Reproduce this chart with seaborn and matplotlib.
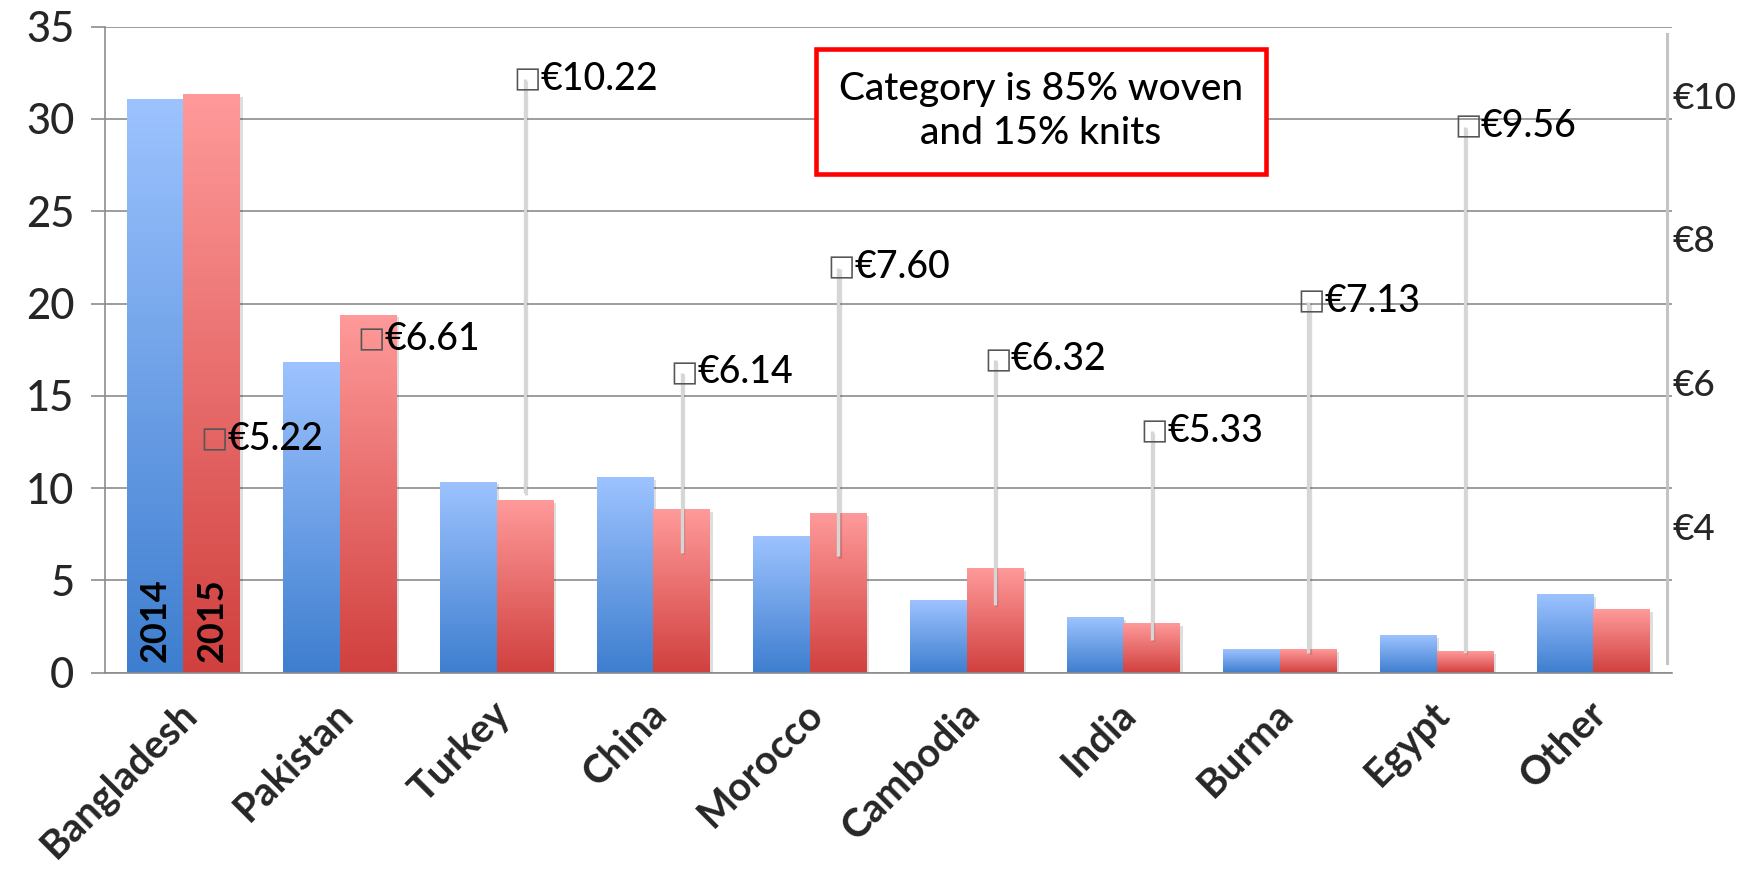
import numpy as np
import pandas as pd
import matplotlib
matplotlib.use("Agg")
import matplotlib.pyplot as plt
import seaborn as sns
from matplotlib.patches import Rectangle
from matplotlib import patheffects as pe
from matplotlib.colors import LinearSegmentedColormap
from matplotlib.transforms import ScaledTranslation

# ---------------- data ----------------
countries = ["Bangladesh", "Pakistan", "Turkey", "China", "Morocco",
             "Cambodia", "India", "Burma", "Egypt", "Other"]
years = ["2014", "2015"]
values_2014 = [31.1, 16.85, 10.35, 10.6, 7.42, 3.94, 3.02, 1.29, 2.05, 4.27]
values_2015 = [31.35, 19.4, 9.37, 8.88, 8.66, 5.68, 2.70, 1.29, 1.18, 3.46]
price_2015 = [5.22, 6.61, 10.22, 6.14, 7.60, 6.32, 5.33, 7.13, 9.56, np.nan]
price_low = [np.nan, np.nan, 4.47, 3.64, 3.59, 2.92, 2.43, 2.25, 2.25, np.nan]
left_ticks = [0, 5, 10, 15, 20, 25, 30, 35]
price_ticks = [4, 6, 8, 10]
note_text = "Category is 85% woven\nand 15% knits"

# ---------------- style ----------------
sns.set_style("white")
plt.rcParams["font.family"] = ["Lato", "DejaVu Sans"]
plt.rcParams["font.weight"] = "medium"

blue_bottom, blue_top = "#3E7ECF", "#9DC3FF"
red_bottom, red_top = "#D0403E", "#FF9A9A"
grid_col = "#8c8c8c"

df = pd.DataFrame({
    "country": countries * 2,
    "year": [years[0]] * len(countries) + [years[1]] * len(countries),
    "value": values_2014 + values_2015,
})

fig = plt.figure(figsize=(17.41, 8.69), dpi=100)
ax = fig.add_axes([0.0603, 0.2259, 0.8999, 0.7434])

sns.barplot(data=df, x="country", y="value", hue="year", order=countries,
            hue_order=years, palette=[blue_bottom, red_bottom], width=0.723,
            saturation=1, errorbar=None, legend=False, ax=ax)

# gradient fill for every bar
grad = np.linspace(0, 1, 256).reshape(-1, 1)
for cont, (cb, ct) in zip(ax.containers, [(blue_bottom, blue_top), (red_bottom, red_top)]):
    cmap = LinearSegmentedColormap.from_list("g", [cb, ct])
    for bar in cont:
        x0, y0 = bar.get_x(), bar.get_y()
        w, h = bar.get_width(), bar.get_height()
        bar.set_edgecolor("none")
        bar.set_path_effects([pe.SimplePatchShadow(offset=(2, -2), shadow_rgbFace="k", alpha=0.13),
                              pe.Normal()])
        im = ax.imshow(grad, cmap=cmap, extent=(x0, x0 + w, y0, y0 + h), origin="lower",
                       aspect="auto", interpolation="bilinear", zorder=bar.get_zorder() + 0.1)
        im.set_clip_path(bar)

ax.set_xlim(-0.5, len(countries) - 0.5)
ax.set_ylim(0, 35)
ax.set_yticks(left_ticks)
ax.set_yticklabels([str(t) for t in left_ticks])
ax.set_axisbelow(True)
ax.yaxis.grid(True, color=grid_col, lw=1.2)
ax.xaxis.grid(False)
for s in ["top", "right"]:
    ax.spines[s].set_visible(False)
for s in ["left", "bottom"]:
    ax.spines[s].set_color(grid_col)
    ax.spines[s].set_linewidth(1.2)
ax.set_xlabel("")
ax.set_ylabel("")

# x ticks: marks at category boundaries, labels at centres
ax.set_xticks(np.arange(-0.5, len(countries), 1.0))
ax.set_xticklabels([""] * (len(countries) + 1))
ax.set_xticks(np.arange(len(countries)), minor=True)
ax.set_xticklabels(countries, minor=True, rotation=45, ha="right", va="top",
                   rotation_mode="anchor", fontsize=28.5, fontweight="bold")
ax.tick_params(axis="x", which="major", length=10, width=1.2, color=grid_col, direction="out")
ax.tick_params(axis="x", which="minor", length=0, pad=16)
ax.tick_params(axis="y", length=10, width=1.2, color=grid_col, labelsize=30, pad=12)
for lab in ax.get_xticklabels(minor=True):
    lab.set_transform(lab.get_transform() + ScaledTranslation(-0.06, 0, fig.dpi_scale_trans))

# year labels inside the first pair of bars
for cont, yr in zip(ax.containers, years):
    b = cont[0]
    ax.text(b.get_x() + b.get_width() / 2, 0.6, yr, rotation=90, ha="center", va="bottom",
            fontsize=26, fontweight="bold", color="black", zorder=5)

# ---------------- secondary axis: price ----------------
ax2 = ax.twinx()
ax2.set_ylim(1.976, 10.949)
ax2.set_yticks(price_ticks)
ax2.set_yticklabels([f"€{t}" for t in price_ticks])
ax2.tick_params(axis="y", length=0, labelsize=26.5, pad=4.5)
for s in ["top", "left", "bottom"]:
    ax2.spines[s].set_visible(False)
ax2.spines["right"].set_color("#c4c4c4")
ax2.spines["right"].set_linewidth(2.2)
ax2.spines["right"].set_position(("outward", -3.6))
ax2.spines["right"].set_bounds(2.11, 10.85)
ax2.grid(False)

red_centres = [b.get_x() + b.get_width() / 2 for b in ax.containers[1]]
ax2.vlines(red_centres, price_low, price_2015, colors="#d6d6d6", lw=2.4,
           path_effects=[pe.SimpleLineShadow(offset=(1, -1), alpha=0.15), pe.Normal()])
for x, p in zip(red_centres, price_2015):
    if np.isnan(p):
        continue
    ax2.annotate("□", xy=(x, p), xytext=(-8, 0), textcoords="offset points",
                 ha="left", va="center", fontsize=21, color="#555555",
                 family=["DejaVu Sans"], fontweight="normal")
    ax2.annotate(f"€{p:.2f}", xy=(x, p), xytext=(11.5, 0), textcoords="offset points",
                 ha="left", va="center", fontsize=27, color="black")

# ---------------- note box ----------------
ax2.add_patch(Rectangle((0.4538, 0.7715), 0.2873, 0.1941, transform=ax2.transAxes,
                        facecolor="white", edgecolor="#FF0000", lw=3.3, zorder=6))
ax2.text(0.5974, 0.8686, note_text, transform=ax2.transAxes, ha="center", va="center",
         fontsize=28, linespacing=1.3, color="black", zorder=7)

fig.savefig("out.png", dpi=100)
